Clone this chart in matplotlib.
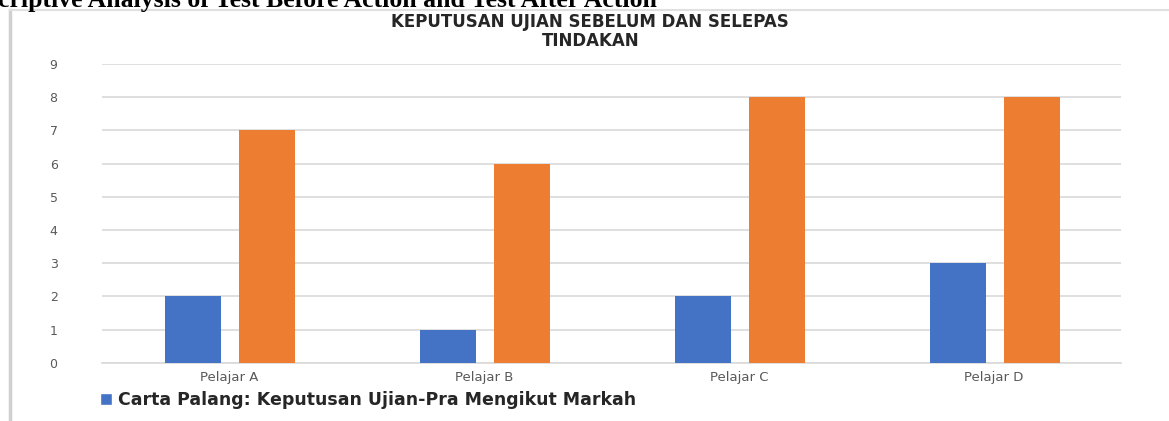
import matplotlib.pyplot as plt
import numpy as np
from matplotlib.lines import Line2D

# data
students = ["Pelajar A", "Pelajar B", "Pelajar C", "Pelajar D"]
pre_marks = [2, 1, 2, 3]
post_marks = [7, 6, 8, 8]
y_ticks = list(range(0, 10))

chart_title = "KEPUTUSAN UJIAN SEBELUM DAN SELEPAS\nTINDAKAN"
legend_label = "Carta Palang: Keputusan Ujian-Pra Mengikut Markah"
caption = "Descriptive Analysis of Test Before Action and Test After Action"

blue = "#4472C4"
orange = "#ED7D31"
grid_grey = "#D9D9D9"
text_grey = "#595959"

fig = plt.figure(figsize=(11.69, 4.21), dpi=100)
ax = fig.add_axes([0.0873, 0.138, 0.872, 0.710])

x = np.arange(len(students))
w = 0.22
b1 = ax.bar(x - 0.142, pre_marks, width=w, color=blue, zorder=3)
b2 = ax.bar(x + 0.148, post_marks, width=w, color=orange, zorder=3)

ax.set_xlim(-0.5, len(students) - 0.5)
ax.set_ylim(0, 9)
ax.set_yticks(y_ticks)
ax.set_yticklabels([str(t) for t in y_ticks], color=text_grey, fontsize=9)
ax.set_xticks(x)
ax.set_xticklabels(students, color=text_grey, fontsize=9.5)
ax.tick_params(axis="y", length=0, pad=32)
ax.tick_params(axis="x", length=0, pad=6)
ax.grid(axis="y", color=grid_grey, linewidth=1.2, zorder=0)
for s in ["top", "right", "left"]:
    ax.spines[s].set_visible(False)
ax.spines["bottom"].set_color(grid_grey)
ax.spines["bottom"].set_linewidth(1.2)

fig.text(0.505, 0.925, chart_title, ha="center", va="center",
         fontsize=12, fontweight="bold", color="#262626", linespacing=1.1)

handle = Line2D([0], [0], marker="s", color="w", markerfacecolor=blue,
                markersize=8, linestyle="None")
fig.legend(handles=[handle], labels=[legend_label], loc="center",
           bbox_to_anchor=(0.313, 0.05), frameon=False, handletextpad=0.1,
           handlelength=1.2, prop={"size": 12.5, "weight": "bold"},
           labelcolor="#262626")

# frame of the embedded chart
fig.add_artist(Line2D([10 / 1169, 10 / 1169], [0, 1 - 10 / 421],
                      transform=fig.transFigure, color="#D0D0D0", linewidth=2.5))
fig.add_artist(Line2D([10 / 1169, 1], [1 - 10 / 421, 1 - 10 / 421],
                      transform=fig.transFigure, color="#E0E0E0", linewidth=1.5))

# document caption, cut off at top-left as in the page crop
fig.text(-42 / 1169, 1 - 7 / 421, caption, ha="left", va="baseline",
         fontsize=18.5, fontweight="bold", family="Liberation Serif", color="black")

fig.savefig("out.png", dpi=100)
